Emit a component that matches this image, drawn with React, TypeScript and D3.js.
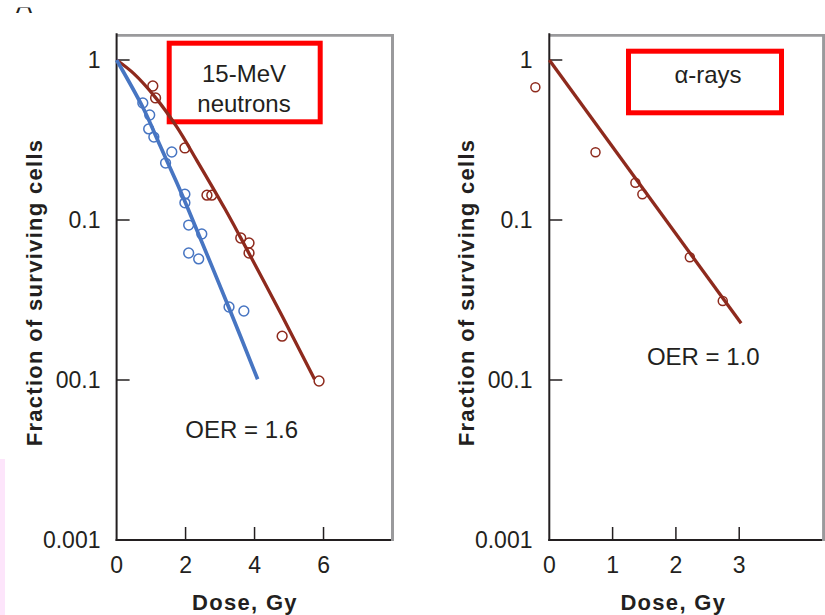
import React from "react";
import * as d3 from "d3";

// ---- Data ----
// Panel A-left: 15-MeV neutrons
const neutronAerobicDose = [0.76, 0.96, 0.93, 1.08, 1.6, 1.42, 1.98, 1.98, 2.09, 2.47, 2.09, 2.38, 3.26, 3.69];
const neutronAerobicSurv = [0.539, 0.453, 0.371, 0.33, 0.266, 0.227, 0.145, 0.128, 0.093, 0.0818, 0.0622, 0.0571, 0.0286, 0.027];
const neutronHypoxicDose = [1.05, 1.13, 1.98, 2.62, 2.76, 3.6, 3.84, 3.84, 4.8, 5.87];
const neutronHypoxicSurv = [0.688, 0.579, 0.282, 0.143, 0.143, 0.0772, 0.0718, 0.0622, 0.0188, 0.00986];
// fitted curves as drawn
const neutronAerobicCurveDose = [0, 0.77, 1.25, 1.74, 2.07, 3.26, 4.09];
const neutronAerobicCurveSurv = [1, 0.501, 0.295, 0.172, 0.1175, 0.0282, 0.0101];
const neutronHypoxicCurveDose = [0, 0.5, 1.13, 1.74, 2.32, 3.14, 3.6, 4.8, 5.74];
const neutronHypoxicCurveSurv = [1, 0.822, 0.582, 0.383, 0.237, 0.1175, 0.0773, 0.0251, 0.0101];

// Panel right: alpha-rays
const alphaDose = [-0.22, 0.73, 1.36, 1.47, 2.22, 2.74];
const alphaSurv = [0.675, 0.265, 0.171, 0.145, 0.0585, 0.0312];
const alphaCurveDose = [0, 3.03];
const alphaCurveSurv = [1, 0.0226];

const yTickValues = [1, 0.1, 0.01, 0.001];
const yTickLabels = ["1", "0.1", "00.1", "0.001"];
const leftXTicks = [0, 2, 4, 6];
const rightXTicks = [0, 1, 2, 3];

const RED = "#8e2a1d";
const BLUE = "#4775c2";
const INK = "#231f20";
const FONT = "'Liberation Sans', Arial, Helvetica, sans-serif";

type PanelProps = {
  x0: number;
  x1: number;
  xMax: number;
  xTicks: number[];
  labelEnd: number;
  yLabelX: number;
  xLabelCenter: number;
  children: (x: d3.ScaleLinear<number, number>, y: d3.ScaleLogarithmic<number, number>) => React.ReactNode;
};

const TOP = 35.3;
const BOTTOM = 540;

function Panel({ x0, x1, xMax, xTicks, labelEnd, yLabelX, xLabelCenter, children }: PanelProps) {
  const x = d3.scaleLinear().domain([0, xMax]).range([x0, x1]);
  const y = d3.scaleLog().domain([0.001, 1]).range([BOTTOM, 60]);
  return (
    <g>
      {/* gray top/right frame */}
      <line x1={x0} x2={x1 + 1.5} y1={TOP} y2={TOP} stroke="#9a9a9c" strokeWidth={2.7} />
      <line x1={x1} x2={x1} y1={TOP - 1.3} y2={BOTTOM + 1} stroke="#9a9a9c" strokeWidth={3} />
      {/* axes */}
      <line x1={x0} x2={x0} y1={TOP - 2} y2={BOTTOM + 1} stroke={INK} strokeWidth={2} />
      <line x1={x0 - 1} x2={x1 - 1.5} y1={BOTTOM} y2={BOTTOM} stroke={INK} strokeWidth={1.8} />
      {/* y ticks */}
      {yTickValues.map((v, i) => (
        <g key={"y" + i}>
          {v > 0.001 && (
            <line x1={x0} x2={x0 + 13} y1={y(v)} y2={y(v)} stroke={INK} strokeWidth={1.5} />
          )}
          <text x={labelEnd} y={y(v) + 8} textAnchor="end" fontSize={23} fill={INK} fontFamily={FONT}>
            {yTickLabels[i]}
          </text>
        </g>
      ))}
      {/* x ticks */}
      {xTicks.map((t) => (
        <g key={"x" + t}>
          {t > 0 && <line x1={x(t)} x2={x(t)} y1={BOTTOM} y2={BOTTOM - 13} stroke={INK} strokeWidth={1.5} />}
          <text x={x(t)} y={572.5} textAnchor="middle" fontSize={23} fill={INK} fontFamily={FONT}>
            {t}
          </text>
        </g>
      ))}
      {/* axis titles */}
      <text
        transform={`translate(${yLabelX},292.5) rotate(-90)`}
        textAnchor="middle"
        fontSize={22}
        fontWeight="bold"
        letterSpacing={1.3}
        fill={INK}
        fontFamily={FONT}
      >
        Fraction of surviving cells
      </text>
      <text
        x={xLabelCenter}
        y={610}
        textAnchor="middle"
        fontSize={22}
        fontWeight="bold"
        letterSpacing={1.3}
        fill={INK}
        fontFamily={FONT}
      >
        Dose, Gy
      </text>
      {children(x, y)}
    </g>
  );
}

function curvePath(
  x: d3.ScaleLinear<number, number>,
  y: d3.ScaleLogarithmic<number, number>,
  ds: number[],
  ss: number[]
) {
  const pts = ds.map((d, i) => [d, ss[i]] as [number, number]);
  return (
    d3
      .line<[number, number]>()
      .x((p) => x(p[0]))
      .y((p) => y(p[1]))
      .curve(d3.curveCatmullRom.alpha(0.5))(pts) || ""
  );
}

function Circles({
  x,
  y,
  ds,
  ss,
  color,
  r,
}: {
  x: d3.ScaleLinear<number, number>;
  y: d3.ScaleLogarithmic<number, number>;
  ds: number[];
  ss: number[];
  color: string;
  r: number;
}) {
  return (
    <g>
      {ds.map((d, i) => (
        <circle key={i} cx={x(d)} cy={y(ss[i])} r={r} fill="none" stroke={color} strokeWidth={1.5} />
      ))}
    </g>
  );
}

export default function App() {
  return (
    <svg
      width={825}
      height={615}
      viewBox="0 0 825 615"
      style={{ position: "absolute", left: 0, top: 0, background: "#fff" }}
      fontFamily={FONT}
    >
      <rect x={0} y={0} width={825} height={615} fill="#fff" />
      {/* cut-off panel letter */}
      <defs>
        <clipPath id="letterClip">
          <rect x={8} y={7.6} width={40} height={6} />
        </clipPath>
      </defs>
      <text x={16} y={12.7} fontSize={24} fill={INK} clipPath="url(#letterClip)" fontFamily={FONT}>
        A
      </text>
      {/* pink strip at left edge */}
      <rect x={0} y={459} width={5} height={156} fill="#fde5fb" />

      <Panel x0={116.6} x1={392.5} xMax={8} xTicks={leftXTicks} labelEnd={100.5} yLabelX={42} xLabelCenter={245}>
        {(x, y) => (
          <g>
            <rect x={169.2} y={43.2} width={151} height={78.6} fill="none" stroke="#ff0000" strokeWidth={5} />
            <text x={244} y={81.7} textAnchor="middle" fontSize={24} fill={INK}>
              15-MeV
            </text>
            <text x={244} y={111.7} textAnchor="middle" fontSize={24} fill={INK}>
              neutrons
            </text>
            <text x={241.7} y={438.3} textAnchor="middle" fontSize={24} fill={INK}>
              OER = 1.6
            </text>
            <path
              d={curvePath(x, y, neutronHypoxicCurveDose, neutronHypoxicCurveSurv)}
              fill="none"
              stroke={RED}
              strokeWidth={3.3}
            />
            <path
              d={curvePath(x, y, neutronAerobicCurveDose, neutronAerobicCurveSurv)}
              fill="none"
              stroke={BLUE}
              strokeWidth={3.7}
            />
            <Circles x={x} y={y} ds={neutronHypoxicDose} ss={neutronHypoxicSurv} color={RED} r={4.9} />
            <Circles x={x} y={y} ds={neutronAerobicDose} ss={neutronAerobicSurv} color={BLUE} r={4.9} />
          </g>
        )}
      </Panel>

      <Panel x0={549.3} x1={823.6} xMax={4.333} xTicks={rightXTicks} labelEnd={532.5} yLabelX={473.5} xLabelCenter={673.3}>
        {(x, y) => (
          <g>
            <rect x={628.5} y={51.2} width={153} height={61.6} fill="none" stroke="#ff0000" strokeWidth={5} />
            <text x={708} y={83.3} textAnchor="middle" fontSize={24} fill={INK}>
              α-rays
            </text>
            <text x={703.3} y={365} textAnchor="middle" fontSize={24} fill={INK}>
              OER = 1.0
            </text>
            <path
              d={curvePath(x, y, alphaCurveDose, alphaCurveSurv)}
              fill="none"
              stroke={RED}
              strokeWidth={3.3}
            />
            <Circles x={x} y={y} ds={alphaDose} ss={alphaSurv} color={RED} r={4.5} />
          </g>
        )}
      </Panel>
    </svg>
  );
}
